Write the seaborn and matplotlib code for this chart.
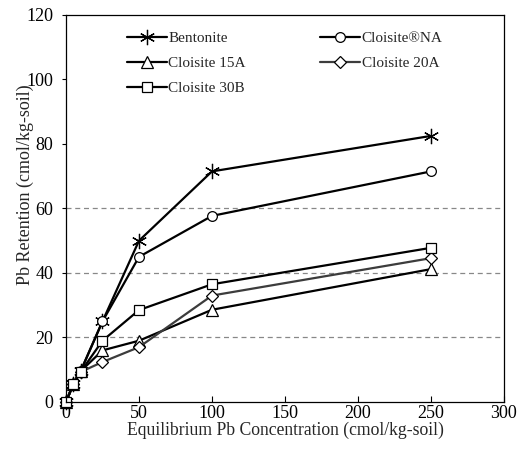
import matplotlib
matplotlib.use("Agg")
import matplotlib.pyplot as plt
import numpy as np
import pandas as pd
import seaborn as sns

CONC = [0, 5, 10, 25, 50, 100, 250]

CLAYS = ["Bentonite", "Cloisite\u00aeNA", "Cloisite 15A", "Cloisite 20A", "Cloisite 30B"]

BENTONITE = [0, 5.5, 9.5, 25, 50, 71.5, 82.5]
CLOISITE_NA = [0, 5.5, 9.5, 25, 45, 57.7, 71.5]
CLOISITE_15A = [0, 5.5, 9.5, 16, 19, 28.6, 41.2]
CLOISITE_20A = [0, 5.5, 9.3, 12.4, 17, 33, 44.6]
CLOISITE_30B = [0, 5.5, 9.3, 19, 28.5, 36.5, 47.8]

X_TICKS = [0, 50, 100, 150, 200, 250, 300]
Y_TICKS = [0, 20, 40, 60, 80, 100, 120]

series = [BENTONITE, CLOISITE_NA, CLOISITE_15A, CLOISITE_20A, CLOISITE_30B]
df = pd.DataFrame({
    "conc": np.tile(CONC, len(CLAYS)),
    "ret": np.concatenate(series),
    "clay": np.repeat(CLAYS, len(CONC)),
})

sns.set_style("ticks")
plt.rcParams["font.family"] = ["Liberation Serif", "DejaVu Serif"]
plt.rcParams["font.size"] = 13

fig = plt.figure(figsize=(5.22, 4.58), dpi=100)
ax = fig.add_axes([0.1264, 0.1223, 0.8391, 0.845])

# seaborn won't mix filled and line-art markers, so the asterisk is swapped in after
markers = {
    CLAYS[0]: "o",
    CLAYS[1]: "o",
    CLAYS[2]: "^",
    CLAYS[3]: "D",
    CLAYS[4]: "s",
}
palette = {c: "black" for c in CLAYS}
palette[CLAYS[3]] = "#3c3c3c"
sizes = {CLAYS[0]: 11, CLAYS[1]: 7, CLAYS[2]: 9, CLAYS[3]: 6.5, CLAYS[4]: 7.5}

sns.lineplot(
    data=df, x="conc", y="ret", hue="clay", style="clay",
    hue_order=CLAYS, style_order=CLAYS,
    markers=markers, dashes=False, palette=palette,
    linewidth=1.6, markersize=8, markerfacecolor="white",
    markeredgecolor="black", markeredgewidth=0.9, ax=ax,
)


def fix_marker(line, clay):
    if clay == CLAYS[0]:
        line.set_marker((6, 2, 0))
    line.set_markersize(sizes[clay])
    line.set_markerfacecolor("white")
    line.set_markeredgecolor("black")
    line.set_markeredgewidth(0.9)


for line, clay in zip(ax.get_lines()[:len(CLAYS)], CLAYS):
    fix_marker(line, clay)
    line.set_clip_on(False)

ax.set_xlim(0, 300)
ax.set_ylim(0, 120)
ax.set_xticks(X_TICKS)
ax.set_yticks(Y_TICKS)
ax.tick_params(axis="x", direction="in", length=4, width=0.8, labelsize=13, pad=2, colors="black")
ax.tick_params(axis="y", direction="out", length=3, width=0.8, labelsize=13, pad=6, colors="black")

ax.grid(axis="y", color="#888888", linestyle=(0, (4, 3)), linewidth=0.9)
for tick, gl in zip(Y_TICKS, ax.yaxis.get_gridlines()):
    gl.set_visible(tick in (20, 40, 60))

for sp in ax.spines.values():
    sp.set_color("black")
    sp.set_linewidth(0.9)

ax.set_xlabel("Equilibrium Pb Concentration (cmol/kg-soil)", fontsize=12.7, labelpad=0)
ax.set_ylabel("Pb Retention (cmol/kg-soil)", fontsize=13)
ax.yaxis.set_label_coords(-0.073, 0.561)

handles, labels = ax.get_legend_handles_labels()
for h, lab in zip(handles, labels):
    fix_marker(h, lab)
# legend reads row by row in the reference, matplotlib fills column by column
order = [0, 2, 4, 1, 3]
leg = ax.legend(
    [handles[i] for i in order], [labels[i] for i in order],
    ncol=2, loc="upper left", bbox_to_anchor=(0.139, 0.957),
    frameon=False, fontsize=11, handlelength=2.6, handletextpad=0.1,
    columnspacing=4.9, labelspacing=0.73, borderpad=0, borderaxespad=0,
)

fig.savefig("out.png", dpi=100)
